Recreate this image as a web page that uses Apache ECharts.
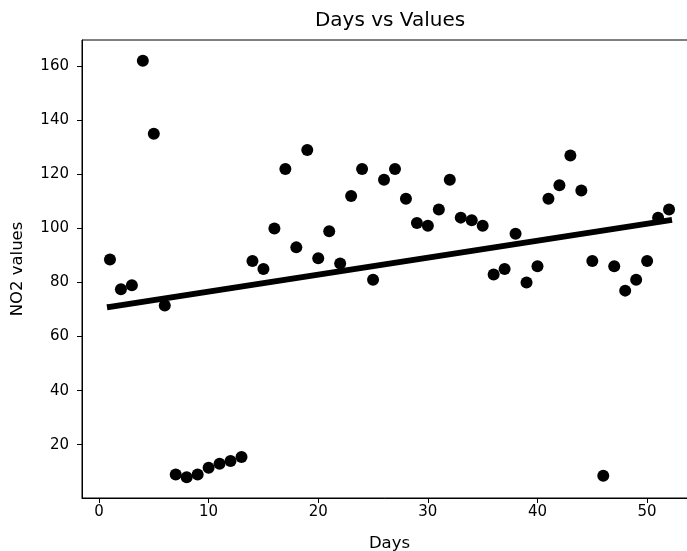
<!DOCTYPE html>
<html><head><meta charset="utf-8">
<script src="https://cdn.jsdelivr.net/npm/echarts@6/dist/echarts.min.js"></script>
<style>html,body{margin:0;padding:0;background:#fff}#c{width:687px;height:551px}</style>
</head><body><div id="c"></div>
<script>
const days = [1,2,3,4,5,6,7,8,9,10,11,12,13,14,15,16,17,18,19,20,21,22,23,24,25,26,27,28,29,30,31,32,33,34,35,36,37,38,39,40,41,42,43,44,45,46,47,48,49,50,51,52];
const no2Values = [88.5,77.5,79,162,135,71.5,9,8,9,11.5,13,14,15.5,88,85,100,122,93,129,89,99,87,112,122,81,118,122,111,102,101,107,118,104,103,101,83,85,98,80,86,111,116,127,114,88,8.5,86,77,81,88,104,107];
const fitDays = [1, 52];
const fitValues = [71, 103];
const xTicks = [0, 10, 20, 30, 40, 50];
const yTicks = [20, 40, 60, 80, 100, 120, 140, 160];

const font = 'DejaVu Sans';
const chart = echarts.init(document.getElementById('c'), null, {renderer: 'canvas'});
chart.setOption({
  animation: false,
  backgroundColor: '#fff',
  title: {
    text: 'Days vs Values', left: 385, top: 6, textAlign: 'center',
    textStyle: {fontFamily: font, fontSize: 20, fontWeight: 'normal', color: '#000'}
  },
  grid: {left: 82, top: 40, right: -10, bottom: 53, outerBoundsMode: 'none', containLabel: false,
         show: true, borderColor: '#000', borderWidth: 1, backgroundColor: 'transparent'},
  xAxis: {
    type: 'value', min: -1.55, max: 54.55,
    name: 'Days', nameLocation: 'middle', nameGap: 37,
    nameTextStyle: {fontFamily: font, fontSize: 16.5, color: '#000'},
    axisLine: {show: true, onZero: false, lineStyle: {color: '#000', width: 1}},
    axisTick: {show: true, customValues: xTicks, length: 5, lineStyle: {color: '#000', width: 1}},
    axisLabel: {customValues: xTicks, fontFamily: font, fontSize: 15, color: '#000', margin: 7},
    splitLine: {show: false}
  },
  yAxis: {
    type: 'value', min: 0.3, max: 169.7,
    name: 'NO2 values', nameLocation: 'middle', nameGap: 56,
    nameTextStyle: {fontFamily: font, fontSize: 16.5, color: '#000'},
    axisLine: {show: true, onZero: false, lineStyle: {color: '#000', width: 1}},
    axisTick: {show: true, customValues: yTicks, length: 5, lineStyle: {color: '#000', width: 1}},
    axisLabel: {customValues: yTicks, fontFamily: font, fontSize: 15, color: '#000', margin: 13},
    splitLine: {show: false}
  },
  series: [
    {
      type: 'scatter', symbol: 'circle', symbolSize: 12,
      itemStyle: {color: '#000', opacity: 1},
      data: days.map((d, i) => [d, no2Values[i]])
    },
    {
      type: 'line', symbol: 'none', silent: true,
      lineStyle: {color: '#000', width: 6, cap: 'square'},
      data: fitDays.map((d, i) => [d, fitValues[i]])
    }
  ]
});
</script>
</body></html>
